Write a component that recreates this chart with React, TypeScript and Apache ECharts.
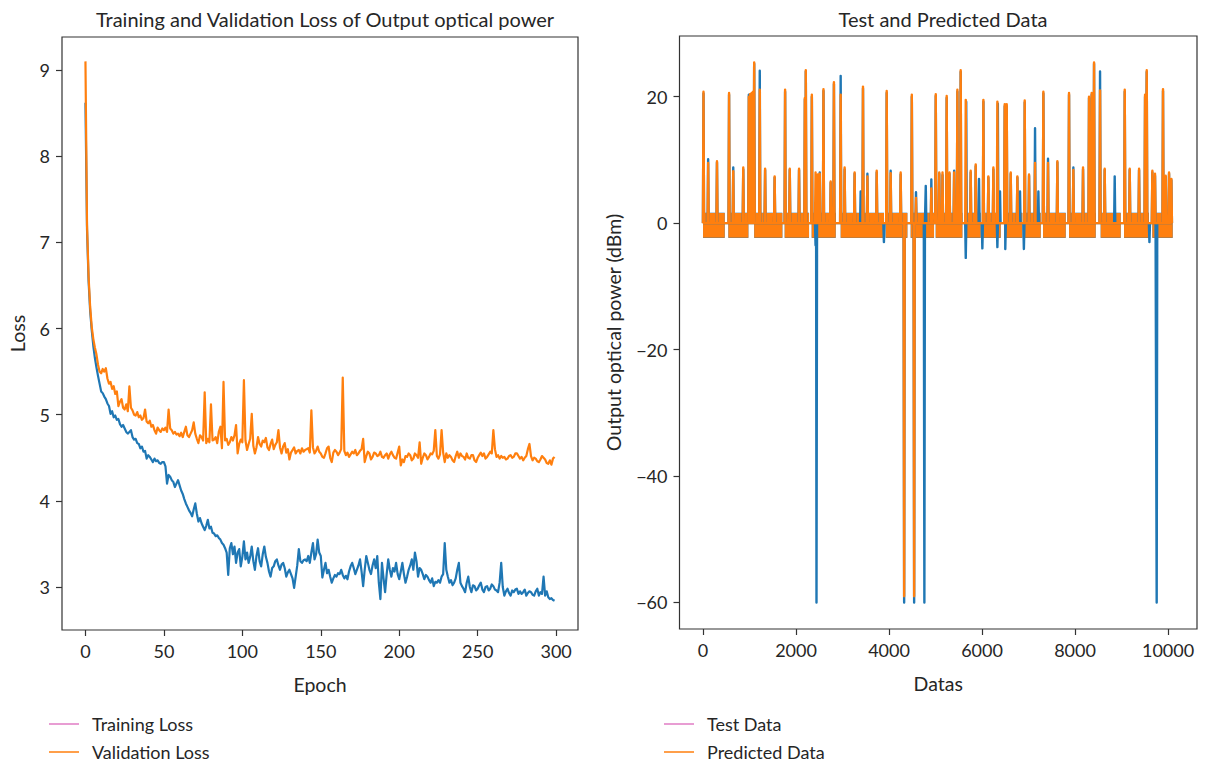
import React, { useEffect, useRef } from 'react';
import * as echarts from 'echarts';

// ---------- Left chart data ----------
const epochs: number[] = Array.from({ length: 300 }, (_, i) => i);

const trainingLoss: number[] = [
  8.62, 7.15, 6.55, 6.20, 5.98, 5.80, 5.66, 5.55, 5.45, 5.36,
  5.27, 5.25, 5.21, 5.18, 5.13, 5.10, 5.01, 5.04, 4.97, 4.99,
  4.94, 4.95, 4.89, 4.86, 4.88, 4.84, 4.80, 4.78, 4.80, 4.82,
  4.74, 4.71, 4.72, 4.67, 4.66, 4.61, 4.63, 4.57, 4.58, 4.49,
  4.53, 4.51, 4.48, 4.45, 4.49, 4.46, 4.47, 4.44, 4.43, 4.45,
  4.45, 4.40, 4.20, 4.30, 4.28, 4.24, 4.22, 4.16, 4.20, 4.24,
  4.18, 4.12, 4.08, 4.02, 3.97, 3.93, 3.89, 3.86, 3.82, 3.90,
  3.97, 3.85, 3.76, 3.80, 3.74, 3.70, 3.66, 3.71, 3.78, 3.68,
  3.70, 3.63, 3.62, 3.59, 3.60, 3.57, 3.55, 3.51, 3.49, 3.45,
  3.40, 3.14, 3.45, 3.51, 3.38, 3.47, 3.28, 3.40, 3.44, 3.24,
  3.35, 3.53, 3.32, 3.40, 3.28, 3.35, 3.47, 3.30, 3.20, 3.36,
  3.45, 3.30, 3.24, 3.38, 3.47, 3.35, 3.28, 3.18, 3.12, 3.22,
  3.24, 3.30, 3.32, 3.25, 3.20, 3.26, 3.28, 3.22, 3.12, 3.17,
  3.20, 3.15, 3.10, 2.99, 3.12, 3.25, 3.44, 3.30, 3.28, 3.31,
  3.32, 3.30, 3.36, 3.28, 3.40, 3.51, 3.32, 3.38, 3.55, 3.40,
  3.36, 3.11, 3.20, 3.28, 3.16, 3.20, 3.12, 3.05, 3.10, 3.14,
  3.12, 3.16, 3.15, 3.20, 3.14, 3.10, 3.13, 3.09, 3.18, 3.24,
  3.28, 3.22, 3.15, 3.20, 3.25, 3.32, 3.18, 3.01, 3.20, 3.36,
  3.28, 3.20, 3.15, 3.25, 3.32, 3.22, 3.36, 3.05, 2.86, 3.28,
  3.10, 2.94, 3.15, 3.32, 3.20, 3.12, 3.22, 3.18, 3.28, 3.15,
  3.09, 3.18, 3.28, 3.15, 3.05, 3.12, 3.20, 3.25, 3.32, 3.20,
  3.40, 3.30, 3.12, 3.22, 3.20, 3.15, 3.09, 3.14, 3.12, 3.08,
  3.05, 3.10, 3.01, 3.06, 3.05, 3.08, 3.05, 3.12, 3.15, 3.51,
  3.20, 3.12, 3.05, 3.08, 3.02, 3.05, 3.10, 3.20, 3.28, 3.05,
  3.01, 2.98, 2.94, 3.05, 3.12, 3.00, 2.94, 3.02, 3.01, 2.96,
  2.98, 3.02, 3.05, 2.97, 2.94, 3.00, 3.01, 2.96, 2.98, 3.03,
  3.01, 2.97, 2.96, 2.94, 3.05, 3.28, 3.00, 2.90, 2.95, 2.98,
  2.93, 2.90, 2.96, 2.94, 2.97, 2.98, 2.92, 2.95, 2.92, 2.94,
  2.97, 2.90, 2.93, 2.95, 2.94, 2.91, 2.90, 2.95, 2.98, 2.90,
  2.94, 2.92, 3.12, 2.90, 2.95, 2.88, 2.86, 2.87, 2.85, 2.84,
];

const validationLoss: number[] = [
  9.10, 7.20, 6.60, 6.25, 6.02, 5.88, 5.78, 5.70, 5.58, 5.50,
  5.48, 5.53, 5.50, 5.54, 5.42, 5.36, 5.38, 5.30, 5.33, 5.24,
  5.27, 5.10, 5.15, 5.18, 5.08, 5.06, 5.12, 5.04, 5.33, 5.08,
  5.05, 5.00, 4.99, 5.03, 4.97, 4.99, 4.94, 4.96, 5.06, 4.92,
  4.90, 4.93, 4.86, 4.88, 4.82, 4.78, 4.85, 4.82, 4.80, 4.84,
  4.82, 4.85, 4.80, 5.06, 4.84, 4.82, 4.78, 4.80, 4.77, 4.78,
  4.75, 4.79, 4.74, 4.80, 4.86, 4.76, 4.74, 4.78, 4.82, 4.91,
  4.78, 4.72, 4.67, 4.76, 4.74, 4.70, 5.26, 4.67, 4.72, 4.68,
  5.12, 4.70, 4.71, 4.74, 4.67, 4.80, 4.86, 4.61, 5.38, 4.70,
  4.72, 4.65, 4.68, 4.74, 4.70, 4.76, 4.88, 4.55, 4.66, 4.71,
  4.68, 5.40, 4.70, 4.59, 4.66, 4.72, 5.01, 4.64, 4.55, 4.62,
  4.74, 4.66, 4.63, 4.70, 4.68, 4.73, 4.62, 4.59, 4.66, 4.71,
  4.60, 4.65, 4.68, 4.82, 4.62, 4.55, 4.63, 4.67, 4.56, 4.60,
  4.48, 4.56, 4.59, 4.62, 4.55, 4.58, 4.59, 4.55, 4.61, 4.57,
  4.59, 4.60, 4.61, 4.56, 5.05, 4.62, 4.55, 4.58, 4.63, 4.57,
  4.55, 4.51, 4.50, 4.55, 4.61, 4.63, 4.50, 4.45, 4.56, 4.59,
  4.57, 4.53, 4.56, 4.60, 5.43, 4.58, 4.53, 4.56, 4.51, 4.54,
  4.57, 4.55, 4.59, 4.53, 4.55, 4.58, 4.60, 4.72, 4.45, 4.52,
  4.57, 4.55, 4.48, 4.51, 4.56, 4.55, 4.52, 4.53, 4.57, 4.51,
  4.50, 4.53, 4.55, 4.49, 4.54, 4.57, 4.53, 4.50, 4.49, 4.56,
  4.63, 4.41, 4.48, 4.45, 4.52, 4.51, 4.55, 4.53, 4.47, 4.49,
  4.55, 4.53, 4.50, 4.68, 4.43, 4.50, 4.55, 4.53, 4.48, 4.51,
  4.55, 4.54, 4.58, 4.82, 4.52, 4.49, 4.54, 4.82, 4.56, 4.45,
  4.55, 4.50, 4.53, 4.51, 4.47, 4.45, 4.52, 4.57, 4.50, 4.55,
  4.52, 4.51, 4.48, 4.55, 4.50, 4.49, 4.53, 4.53, 4.47, 4.45,
  4.50, 4.53, 4.56, 4.52, 4.55, 4.49, 4.51, 4.54, 4.57, 4.55,
  4.82, 4.60, 4.51, 4.53, 4.49, 4.52, 4.50, 4.51, 4.48, 4.49,
  4.52, 4.53, 4.50, 4.51, 4.55, 4.55, 4.52, 4.49, 4.51, 4.47,
  4.50, 4.52, 4.60, 4.66, 4.52, 4.47, 4.50, 4.49, 4.46, 4.45,
  4.48, 4.52, 4.50, 4.48, 4.44, 4.43, 4.47, 4.42, 4.49, 4.51,
];

const lossXTicks = [0, 50, 100, 150, 200, 250, 300];
const lossYTicks = [3, 4, 5, 6, 7, 8, 9];

// ---------- Right chart data ----------
// dense noise band segments (start, end index) and their value range
const bandStart = [0, 545, 1100, 1756, 2337, 2961, 3928, 4466, 5004, 5649, 6007, 6473, 6925, 7312, 7871, 8552, 9054, 9663];
const bandEnd = [466, 975, 1706, 2280, 2853, 3892, 4394, 4968, 5577, 5971, 6401, 6867, 7262, 7799, 8444, 8982, 9591, 10100];
const testBandLow = -2.35;
const testBandHigh = 1.65;
const predBandLow = -2.3;
const predBandHigh = 1.6;

// isolated excursions of the test data
const testSpikeX = [
  10, 110, 300, 560, 650, 865, 985, 1010, 1045, 1075, 1100, 1220, 1335, 1540, 1765, 1865, 2065, 2190, 2210, 2340,
  2420, 2440, 2470, 2510, 2590, 2745, 2815, 2960, 3045, 3260, 3390, 3440, 3535, 3735, 3890, 3950, 4035, 4250, 4325,
  4490, 4540, 4580, 4760, 4790, 4910, 5005, 5080, 5150, 5240, 5300, 5400, 5470, 5541, 5650, 5660, 5756, 5864, 5935,
  6007, 6029, 6136, 6244, 6330, 6340, 6387, 6488, 6500, 6531, 6617, 6760, 6817, 6900, 6918, 7011, 7140, 7212, 7319,
  7419, 7620, 7871, 7964, 8172, 8301, 8358, 8409, 8538, 8638, 8853, 9069, 9176, 9377, 9506, 9542, 9600, 9663, 9720,
  9756, 9892, 9950, 10022, 10072,
];
const testSpikeY = [
  20.5, 10.1, 9.6, 20.3, 8.8, 8.5, 20.3, 20.2, 20.3, 20.6, 25.2, 24.1, 8.4, 7.2, 20.8, 8.4, 8.4, 19.6, 24.0, 20.0,
  -3.5, -60, 7.5, 8.0, 20.9, 6.4, 22.0, 23.3, 8.5, 7.8, 5.0, 21.3, 7.8, 8.0, -3.0, 20.6, 8.3, 7.7, -60,
  20.0, -60, 4.9, -60, 5.9, 6.9, 20.1, 7.8, 7.6, 19.8, 7.8, 8.3, 20.8, 23.9, -5.5, 19.2, 8.0, 9.0, 7.0,
  -4.0, 19.2, 7.2, 8.5, -3.8, 18.9, 5.0, 18.5, -4.1, 18.5, 7.8, 7.2, 5.0, -4.1, 19.1, 7.5, 15.0, 5.0, 20.5,
  10.2, 9.6, 20.3, 8.8, 8.5, 19.8, 20.3, 25.2, 24.0, 8.4, 7.4, 20.8, 8.4, 8.4, 20.0, 23.9, -3.0, 8.0, 7.5,
  -60, 20.9, 7.3, 7.8, 6.8,
];

// isolated excursions of the predicted data
const predSpikeX = [
  10, 110, 300, 560, 650, 865, 985, 1010, 1045, 1075, 1100, 1220, 1335, 1540, 1765, 1865, 2065, 2190, 2210, 2340,
  2420, 2470, 2510, 2590, 2745, 2815, 2960, 3045, 3260, 3440, 3535, 3735, 3950, 4035, 4250, 4325, 4490, 4540,
  4580, 4910, 5005, 5080, 5150, 5240, 5300, 5400, 5470, 5541, 5650, 5756, 5864, 6029, 6136, 6244, 6330, 6488,
  6531, 6617, 6760, 6918, 7011, 7140, 7319, 7419, 7620, 7871, 7964, 8172, 8301, 8358, 8409, 8538, 8638, 9069,
  9176, 9377, 9506, 9542, 9663, 9720, 9892, 9950, 10022, 10072,
];
const predSpikeY = [
  20.8, 9.5, 9.8, 20.6, 8.2, 8.8, 20.0, 20.4, 20.6, 20.8, 25.4, 21.1, 8.6, 7.4, 21.1, 8.6, 8.6, 19.8, 24.2, 20.3,
  8.0, 7.7, 7.8, 21.2, 6.6, 22.3, 20.3, 8.8, 8.0, 21.6, 7.4, 8.3, 20.9, 7.9, 8.0, -59.0, 20.3, -59.0,
  4.0, 5.5, 20.4, 8.0, 8.0, 20.1, 8.0, 8.0, 21.1, 24.2, 19.5, 8.3, 9.3, 19.5, 7.4, 8.8, 19.2, 18.8,
  18.8, 8.0, 7.4, 19.4, 7.7, 9.5, 20.8, 9.5, 9.8, 20.6, 8.4, 8.8, 20.0, 20.6, 25.4, 21.0, 8.6, 21.1,
  8.6, 8.6, 20.3, 24.2, 8.3, 7.8, 21.2, 7.5, 8.0, 7.0,
];

const dataXTicks = [0, 2000, 4000, 6000, 8000, 10000];
const dataYTicks = [-60, -40, -20, 0, 20];

// ---------- styling ----------
const FONT = 'Lato';
const TXT = '#262626';
const AXIS = '#333333';
const BLUE = '#1f77b4';
const ORANGE = '#ff7f0e';
const PINK = '#e07cc4';

const fmt = (v: number) => (v < 0 ? '\u2212' + Math.abs(v) : String(v));

function spikeLine(xs: number[], ys: number[]) {
  const pts: (number[])[] = [];
  xs.forEach((x, i) => {
    pts.push([x - 12, 0], [x, ys[i]], [x + 12, 0]);
  });
  return pts;
}

function bandSeries(name: string, low: number, high: number, color: string) {
  return {
    type: 'custom',
    name,
    xAxisIndex: 1,
    yAxisIndex: 1,
    silent: true,
    clip: true,
    data: bandStart.map((s, i) => [s, bandEnd[i], low, high]),
    encode: { x: [0, 1], y: [2, 3] },
    renderItem: (_params: any, api: any) => {
      const a = api.coord([api.value(0), api.value(3)]);
      const b = api.coord([api.value(1), api.value(2)]);
      return {
        type: 'rect',
        shape: { x: a[0], y: a[1], width: b[0] - a[0], height: b[1] - a[1] },
        style: { fill: color },
      };
    },
  };
}

function axisCommon(ticks: number[]) {
  return {
    axisLine: { show: false, onZero: false },
    splitLine: { show: false },
    axisTick: { show: true, inside: false, length: 6, customValues: ticks, lineStyle: { color: AXIS, width: 1.2 } },
    axisLabel: { customValues: ticks, formatter: fmt, fontSize: 18, color: TXT, fontFamily: FONT, margin: 12 },
    nameLocation: 'middle',
    nameTextStyle: { fontSize: 19.5, color: TXT, fontFamily: FONT },
  };
}

function legendItem(x: number, y: number, color: string, label: string) {
  return [
    { type: 'line', shape: { x1: x, y1: y, x2: x + 30, y2: y }, style: { stroke: color, lineWidth: 1.5 } },
    {
      type: 'text',
      x: x + 43,
      y,
      style: { text: label, fontSize: 18, fontFamily: FONT, fill: TXT, verticalAlign: 'middle', align: 'left' },
    },
  ];
}

export default function App() {
  const ref = useRef<HTMLDivElement>(null);

  useEffect(() => {
    if (!ref.current) return;
    const chart = echarts.init(ref.current, null, { renderer: 'svg' });
    const option: any = {
      animation: false,
      backgroundColor: '#ffffff',
      textStyle: { fontFamily: FONT },
      title: [
        {
          text: 'Training and Validation Loss of Output optical power',
          left: 320,
          top: 4,
          textAlign: 'center',
          textStyle: { fontSize: 20, fontWeight: 'normal', color: TXT, fontFamily: FONT },
        },
        {
          text: 'Test and Predicted Data',
          left: 938,
          top: 4,
          textAlign: 'center',
          textStyle: { fontSize: 20, fontWeight: 'normal', color: TXT, fontFamily: FONT },
        },
      ],
      grid: [
        { left: 62, top: 37, width: 516, height: 593, show: true, borderColor: AXIS, borderWidth: 1.2, backgroundColor: 'transparent' },
        { left: 679.5, top: 36, width: 517.5, height: 593, show: true, borderColor: AXIS, borderWidth: 1.2, backgroundColor: 'transparent' },
      ],
      xAxis: [
        { ...axisCommon(lossXTicks), gridIndex: 0, type: 'value', min: -14.95, max: 313.95, name: 'Epoch', nameGap: 44 },
        { ...axisCommon(dataXTicks), gridIndex: 1, type: 'value', min: -506, max: 10623, name: 'Datas', nameGap: 44 },
      ],
      yAxis: [
        { ...axisCommon(lossYTicks), gridIndex: 0, type: 'value', min: 2.501, max: 9.383, name: 'Loss', nameGap: 35 },
        { ...axisCommon(dataYTicks), gridIndex: 1, type: 'value', min: -64.2, max: 29.6, name: 'Output optical power (dBm)', nameGap: 56 },
      ],
      series: [
        {
          name: 'Training Loss',
          type: 'line',
          xAxisIndex: 0,
          yAxisIndex: 0,
          showSymbol: false,
          data: epochs.map((e, i) => [e, trainingLoss[i]]),
          lineStyle: { color: BLUE, width: 2.2, join: 'round' },
          itemStyle: { color: BLUE },
        },
        {
          name: 'Validation Loss',
          type: 'line',
          xAxisIndex: 0,
          yAxisIndex: 0,
          showSymbol: false,
          data: epochs.map((e, i) => [e, validationLoss[i]]),
          lineStyle: { color: ORANGE, width: 2.2, join: 'round' },
          itemStyle: { color: ORANGE },
        },
        bandSeries('Test Data band', testBandLow, testBandHigh, BLUE),
        {
          name: 'Test Data',
          type: 'line',
          xAxisIndex: 1,
          yAxisIndex: 1,
          showSymbol: false,
          data: spikeLine(testSpikeX, testSpikeY),
          lineStyle: { color: BLUE, width: 2.4, join: 'round' },
          itemStyle: { color: BLUE },
        },
        bandSeries('Predicted Data band', predBandLow, predBandHigh, ORANGE),
        {
          name: 'Predicted Data',
          type: 'line',
          xAxisIndex: 1,
          yAxisIndex: 1,
          showSymbol: false,
          data: spikeLine(predSpikeX, predSpikeY),
          lineStyle: { color: ORANGE, width: 2.4, join: 'round' },
          itemStyle: { color: ORANGE },
        },
      ],
      graphic: [
        ...legendItem(49, 724, PINK, 'Training Loss'),
        ...legendItem(49, 752, ORANGE, 'Validation Loss'),
        ...legendItem(664, 724, PINK, 'Test Data'),
        ...legendItem(664, 752, ORANGE, 'Predicted Data'),
      ],
    };
    chart.setOption(option);
    return () => chart.dispose();
  }, []);

  return <div ref={ref} style={{ width: 1206, height: 765, position: 'absolute', left: 0, top: 0 }} />;
}
